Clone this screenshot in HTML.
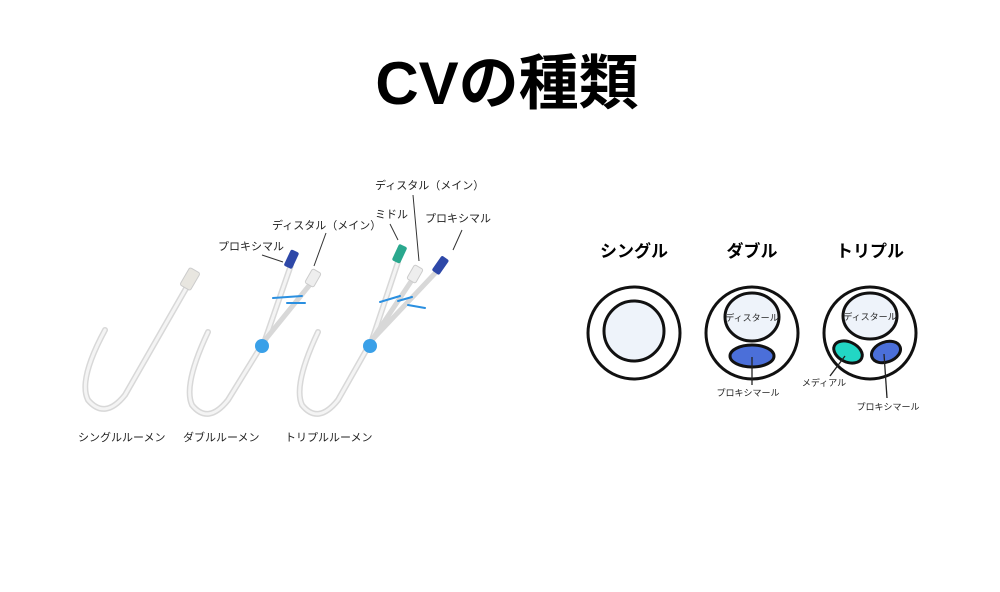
<!DOCTYPE html>
<html><head><meta charset="utf-8"><style>
html,body{margin:0;padding:0;background:#fff;}
svg{display:block;}
text{font-family:"Liberation Sans","Noto Sans CJK JP",sans-serif;}
</style></head><body>
<svg width="1000" height="592" viewBox="0 0 1000 592" xmlns="http://www.w3.org/2000/svg">
<rect width="1000" height="592" fill="#fff"/>
<text x="507" y="104" font-size="60" font-weight="bold" text-anchor="middle" font-family="'Noto Sans CJK JP',sans-serif">CVの種類</text>

<g fill="none" stroke-linecap="round">
 <path d="M188,285 L125,395 Q105,420 88,400 Q78,380 105,330" stroke="#d8d8d8" stroke-width="6"/>
 <path d="M188,285 L125,395 Q105,420 88,400 Q78,380 105,330" stroke="#f4f4f4" stroke-width="3"/>
 <rect x="184" y="269" width="12" height="20" rx="2" fill="#e8e6e0" stroke="#ccc" transform="rotate(30 190 279)"/>
 <path d="M291,265 L265,340 L228,400 Q208,425 192,405 Q183,385 208,332" stroke="#d8d8d8" stroke-width="6"/>
 <path d="M291,265 L265,340 L228,400 Q208,425 192,405 Q183,385 208,332" stroke="#f4f4f4" stroke-width="3"/>
 <path d="M312,282 L265,340" stroke="#d8d8d8" stroke-width="5"/>
 <rect x="287" y="250" width="9" height="18" rx="2" fill="#2e48a8" transform="rotate(25 291 259)"/>
 <rect x="308" y="270" width="10" height="16" rx="2" fill="#eee" stroke="#ccc" transform="rotate(30 313 278)"/>
 <path d="M273,298 L302,296 M287,303 L305,303" stroke="#2a8fe0" stroke-width="2"/>
 <circle cx="262" cy="346" r="7" fill="#3aa0e8"/>
 <path d="M398,262 L372,340 L338,400 Q318,425 302,405 Q293,385 318,332" stroke="#d8d8d8" stroke-width="6"/>
 <path d="M398,262 L372,340 L338,400 Q318,425 302,405 Q293,385 318,332" stroke="#f4f4f4" stroke-width="3"/>
 <path d="M412,280 L372,340 M440,268 L372,340" stroke="#d8d8d8" stroke-width="5"/>
 <rect x="395" y="245" width="9" height="18" rx="2" fill="#2aa88e" transform="rotate(25 400 254)"/>
 <rect x="410" y="266" width="10" height="16" rx="2" fill="#eee" stroke="#ccc" transform="rotate(30 415 274)"/>
 <rect x="436" y="256" width="9" height="18" rx="2" fill="#2e48a8" transform="rotate(35 440 265)"/>
 <path d="M380,302 L400,296 M398,301 L412,297 M408,305 L425,308" stroke="#2a8fe0" stroke-width="2"/>
 <circle cx="370" cy="346" r="7" fill="#3aa0e8"/>
</g>
<g stroke="#333" stroke-width="1">
 <line x1="262" y1="255" x2="283" y2="262"/>
 <line x1="326" y1="233" x2="314" y2="266"/>
 <line x1="390" y1="224" x2="398" y2="240"/>
 <line x1="413" y1="195" x2="419" y2="261"/>
 <line x1="462" y1="230" x2="453" y2="250"/>
</g>
<g font-size="11" fill="#222">
 <text x="218" y="250">プロキシマル</text>
 <text x="272" y="229">ディスタル（メイン）</text>
 <text x="375" y="189">ディスタル（メイン）</text>
 <text x="375" y="218">ミドル</text>
 <text x="425" y="222">プロキシマル</text>
 <text x="78" y="441">シングルルーメン</text>
 <text x="183" y="441">ダブルルーメン</text>
 <text x="285" y="441">トリプルルーメン</text>
</g>

<g font-size="17" font-weight="bold" text-anchor="middle" font-family="'Noto Sans CJK JP',sans-serif">
 <text x="634" y="257">シングル</text>
 <text x="752" y="257">ダブル</text>
 <text x="870" y="257">トリプル</text>
</g>
<g stroke="#111" stroke-width="3">
 <circle cx="634" cy="333" r="46" fill="#fff"/>
 <circle cx="634" cy="331" r="30" fill="#eef3fa"/>
 <circle cx="752" cy="333" r="46" fill="#fff"/>
 <ellipse cx="752" cy="317" rx="27" ry="24" fill="#eef3fa"/>
 <ellipse cx="752" cy="356" rx="22" ry="11" fill="#4b6fd9"/>
 <circle cx="870" cy="333" r="46" fill="#fff"/>
 <ellipse cx="870" cy="316" rx="27" ry="23" fill="#eef3fa"/>
 <ellipse cx="848" cy="352" rx="15" ry="10" fill="#22d6c4" transform="rotate(25 848 352)"/>
 <ellipse cx="886" cy="352" rx="15" ry="10" fill="#4b6fd9" transform="rotate(-20 886 352)"/>
</g>
<g stroke="#222" stroke-width="1.3">
 <line x1="752" y1="357" x2="752" y2="385"/>
 <line x1="845" y1="356" x2="830" y2="376"/>
 <line x1="884" y1="354" x2="887" y2="398"/>
</g>
<g font-size="9" fill="#222" text-anchor="middle">
 <text x="752" y="321">ディスタール</text>
 <text x="870" y="320">ディスタール</text>
 <text x="748" y="396">プロキシマール</text>
 <text x="824" y="386">メディアル</text>
 <text x="888" y="410">プロキシマール</text>
</g>
</svg>
</body></html>
